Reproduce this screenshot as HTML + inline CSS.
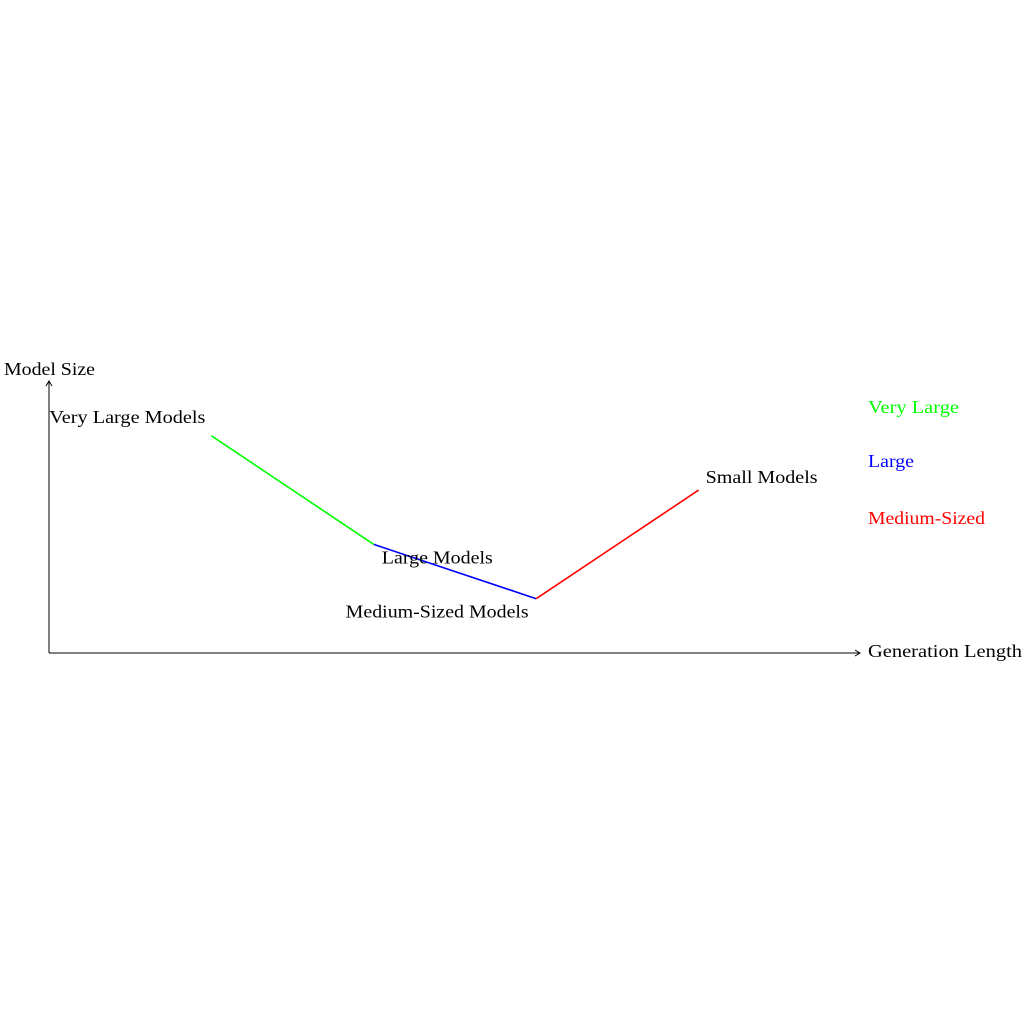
<!DOCTYPE html>
<html><head><meta charset="utf-8"><style>
html,body{margin:0;padding:0;background:#fff;}
svg text{font-family:"Liberation Serif",serif;font-size:18px;}
</style></head><body>
<svg width="1024" height="1024">
<defs><marker id="ar" markerWidth="8" markerHeight="8" refX="6" refY="4" orient="auto"><path d="M1,1 L6,4 L1,7" fill="none" stroke="#000" stroke-width="1"/></marker></defs>
<line x1="49" y1="653" x2="860" y2="653" stroke="#000" stroke-width="1" marker-end="url(#ar)"/>
<line x1="49" y1="653" x2="49" y2="381" stroke="#000" stroke-width="1" marker-end="url(#ar)"/>
<text x="4" y="375" textLength="91" lengthAdjust="spacingAndGlyphs">Model Size</text>
<text x="868" y="657" textLength="154" lengthAdjust="spacingAndGlyphs">Generation Length</text>
<g id="marks"></g>
<text x="868" y="413" fill="#00ff00" textLength="91" lengthAdjust="spacingAndGlyphs">Very Large</text>
<text x="868" y="467" fill="#0000ff" textLength="46" lengthAdjust="spacingAndGlyphs">Large</text>
<text x="868" y="524" fill="#ff0000" textLength="117" lengthAdjust="spacingAndGlyphs">Medium-Sized</text>
</svg>
<script>
const xs = [1, 2, 3, 4];
const ys = [4, 2, 1, 3];
const labels = ["Very Large Models", "Large Models", "Medium-Sized Models", "Small Models"];
const colors = ["#00ff00", "#0000ff", "#ff0000"];
const segNames = ["segment-very-large", "segment-large", "segment-medium-sized"];
function X(v){return 49 + v*162.4;}
function Y(v){return 653 - v*54.3;}
const g = document.getElementById('marks');
const NS = "http://www.w3.org/2000/svg";
for (let i=0;i<xs.length-1;i++){
  const l=document.createElementNS(NS,'line');
  l.setAttribute('x1',X(xs[i]));l.setAttribute('y1',Y(ys[i]));
  l.setAttribute('x2',X(xs[i+1]));l.setAttribute('y2',Y(ys[i+1]));
  l.setAttribute('stroke',colors[i]);l.setAttribute('stroke-width','1.6');
  
  
  g.appendChild(l);
}
const offs = [[-84,-13,'middle'],[8,19,'start'],[-99,19,'middle'],[7,-7,'start']];
const lens = [156, 111, 183, 112];
for (let i=0;i<xs.length;i++){
  const t=document.createElementNS(NS,'text');
  t.setAttribute('x',X(xs[i])+offs[i][0]);
  t.setAttribute('y',Y(ys[i])+offs[i][1]);
  t.setAttribute('text-anchor',offs[i][2]);
  t.setAttribute('textLength',lens[i]);
  t.setAttribute('lengthAdjust','spacingAndGlyphs');
  t.textContent=labels[i];
  
  
  g.appendChild(t);
}
</script>
</body></html>
